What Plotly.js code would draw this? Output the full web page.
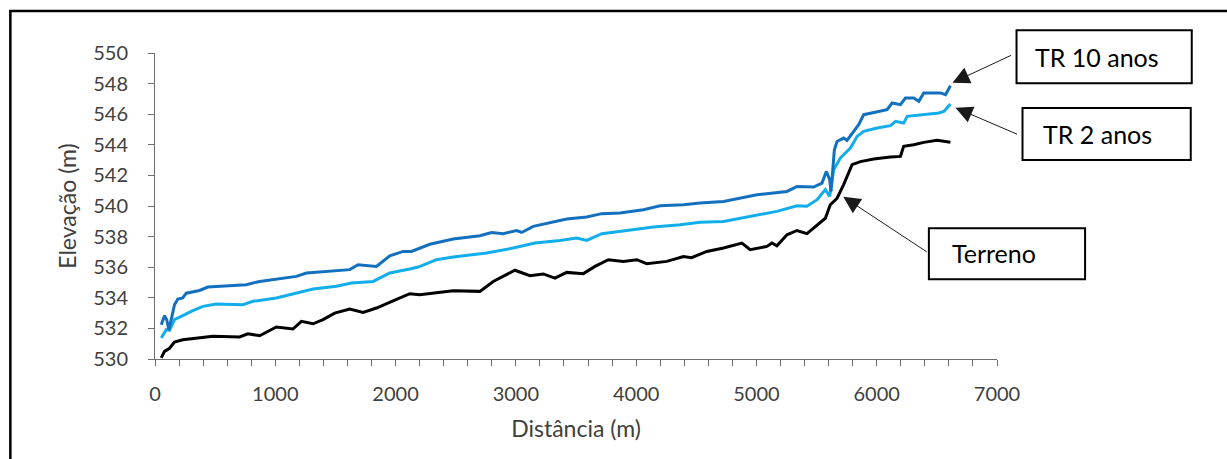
<!DOCTYPE html>
<html>
<head>
<meta charset="utf-8">
<script src="https://cdn.plot.ly/plotly-3.0.1.min.js"></script>
<style>html,body{margin:0;padding:0;background:#fff;}#chart{width:1227px;height:459px;}</style>
</head>
<body>
<div id="chart"></div>
<script>
// Distância (m) and Elevação (m)
const terrenoX = [52,79,121,162,231,370,481,703,773,870,1009,1147,1217,1314,1397,1494,1619,1730,1841,2008,2118,2201,2312,2479,2701,2812,2992,3117,3228,3325,3423,3561,3658,3769,3894,4005,4088,4255,4393,4460,4532,4588,4726,4879,4948,5087,5129,5170,5254,5337,5420,5504,5573,5614,5670,5725,5795,5864,5975,6114,6197,6224,6308,6391,6502,6613];
const terrenoY = [530.07,530.5,530.7,531.1,531.26,531.37,531.48,531.44,531.65,531.52,532.09,531.96,532.46,532.3,532.57,533.0,533.27,533.05,533.33,533.9,534.27,534.2,534.31,534.46,534.42,535.07,535.8,535.44,535.56,535.29,535.66,535.58,536.05,536.49,536.38,536.49,536.23,536.38,536.7,536.62,536.85,537.03,537.25,537.58,537.14,537.36,537.58,537.4,538.12,538.4,538.19,538.78,539.2,540.08,540.5,541.4,542.7,542.9,543.07,543.2,543.24,543.9,544.0,544.16,544.29,544.16];

const tr2X = [52,93,121,162,231,301,398,509,731,814,1009,1175,1314,1508,1633,1813,1952,2118,2188,2285,2340,2479,2757,2978,3159,3367,3506,3589,3714,3922,4144,4366,4532,4726,5004,5170,5337,5420,5504,5573,5609,5642,5698,5781,5837,5892,6003,6114,6156,6224,6253,6391,6516,6558,6613];
const tr2Y = [531.37,531.91,531.87,532.57,532.83,533.11,533.44,533.59,533.55,533.77,533.99,534.31,534.57,534.75,534.97,535.07,535.62,535.88,536.01,536.31,536.49,536.67,536.93,537.25,537.58,537.75,537.91,537.75,538.19,538.4,538.63,538.78,538.93,538.99,539.43,539.65,540.02,539.98,540.41,541.07,540.63,542.37,543.14,543.79,544.55,544.88,545.1,545.25,545.53,545.42,545.86,545.97,546.08,546.18,546.67];

const tr10X = [52,79,98,115,135,162,190,231,260,370,440,592,759,870,1009,1175,1259,1425,1619,1688,1758,1841,1952,2063,2132,2201,2285,2479,2701,2798,2895,3006,3048,3145,3311,3423,3589,3714,3866,4060,4199,4393,4532,4726,5004,5254,5337,5475,5545,5581,5609,5620,5637,5648,5670,5725,5753,5809,5850,5892,6003,6086,6128,6197,6239,6308,6350,6391,6530,6572,6613];
const tr10Y = [532.24,532.83,532.57,531.9,532.57,533.55,533.92,533.99,534.3,534.48,534.7,534.79,534.86,535.07,535.23,535.4,535.62,535.73,535.84,536.16,536.1,536.05,536.75,537.03,537.03,537.25,537.5,537.84,538.06,538.27,538.19,538.4,538.27,538.67,538.93,539.15,539.28,539.5,539.54,539.76,540.02,540.08,540.2,540.3,540.74,540.95,541.28,541.24,541.5,542.26,541.72,540.95,542.59,543.68,544.22,544.44,544.29,544.88,545.31,545.97,546.18,546.29,546.73,546.62,547.06,547.06,546.84,547.39,547.39,547.27,547.86];

const seriesNames = ['Terreno', 'TR 2 anos', 'TR 10 anos'];
const xTitle = 'Distância (m)';
const yTitle = 'Elevação (m)';

const FONT = 'Lato, "Open Sans", sans-serif';
const axisColor = '#6e6e6e';
const tickFont = {family: FONT, size: 20, color: '#404040'};

const traces = [
  {x: terrenoX, y: terrenoY, name: seriesNames[0], mode: 'lines', line: {color: '#000000', width: 3}},
  {x: tr2X, y: tr2Y, name: seriesNames[1], mode: 'lines', line: {color: '#12AEEB', width: 3}},
  {x: tr10X, y: tr10Y, name: seriesNames[2], mode: 'lines', line: {color: '#1270BF', width: 3}}
];

// tips: arrow end points near the end of each line (data units)
const tipTR10 = [6630, 548.06], tipTR2 = [6655, 546.42], tipTer = [5722, 540.6];

const arrow = (tip, ax, ay) => ({
  x: tip[0], y: tip[1], xref: 'x', yref: 'y', text: '', showarrow: true,
  arrowhead: 2, arrowsize: 3.4, arrowwidth: 1, arrowcolor: '#1a1a1a',
  ax: ax, ay: ay, axref: 'pixel', ayref: 'pixel', standoff: 0, startstandoff: 0
});
const label = (txt, px, py) => ({
  x: px, y: py, xref: 'paper', yref: 'paper', text: txt, showarrow: false,
  xanchor: 'left', yanchor: 'middle', font: {family: FONT, size: 25, color: '#000'}
});
const box = (x0, x1, y0, y1) => ({
  type: 'rect', xref: 'paper', yref: 'paper', x0: x0, x1: x1, y0: y0, y1: y1,
  line: {color: '#000', width: 2}, fillcolor: 'rgba(255,255,255,1)', layer: 'above'
});

const layout = {
  width: 1227, height: 459,
  margin: {l: 155, r: 230, t: 53, b: 100, pad: 0},
  paper_bgcolor: '#fff', plot_bgcolor: '#fff',
  showlegend: false,
  font: {family: FONT, color: '#404040'},
  xaxis: {
    range: [0, 7000], tick0: 0, dtick: 1000, ticks: 'outside', ticklen: 6, tickwidth: 1, tickcolor: axisColor,
    minor: {dtick: 200, ticks: 'outside', ticklen: 6, tickwidth: 1, tickcolor: axisColor},
    showline: true, linecolor: axisColor, linewidth: 1, showgrid: false, zeroline: false,
    tickfont: tickFont, ticklabelstandoff: 11,
    title: {text: xTitle, font: {family: FONT, size: 23, color: '#404040'}, standoff: 16}
  },
  yaxis: {
    range: [530, 550], tick0: 530, dtick: 2, ticks: 'outside', ticklen: 6, tickwidth: 1, tickcolor: axisColor,
    showline: true, linecolor: axisColor, linewidth: 1, showgrid: false, zeroline: false,
    tickfont: tickFont, ticklabelstandoff: 16,
    title: {text: yTitle, font: {family: FONT, size: 23, color: '#404040'}, standoff: 10}
  },
  shapes: [
    {type: 'rect', xref: 'paper', yref: 'paper', x0: -0.1718, x1: 1.4, y0: -0.6, y1: 1.1371,
     line: {color: '#000', width: 2.5}, fillcolor: 'rgba(0,0,0,0)', layer: 'below'},
    box(1.0232, 1.2313, 0.9009, 1.0744),
    box(1.0303, 1.2301, 0.6506, 0.8204),
    box(0.9191, 1.1046, 0.2610, 0.4275)
  ],
  annotations: [
    arrow(tipTR10, 60, -28),
    arrow(tipTR2, 63, 27),
    arrow(tipTer, 85, 56),
    label('TR 10 anos', 1.0422, 0.9877),
    label('TR 2 anos', 1.0517, 0.7356),
    label('Terreno', 0.9447, 0.3452)
  ]
};

Plotly.newPlot('chart', traces, layout, {displayModeBar: false, staticPlot: true});
</script>
</body>
</html>
